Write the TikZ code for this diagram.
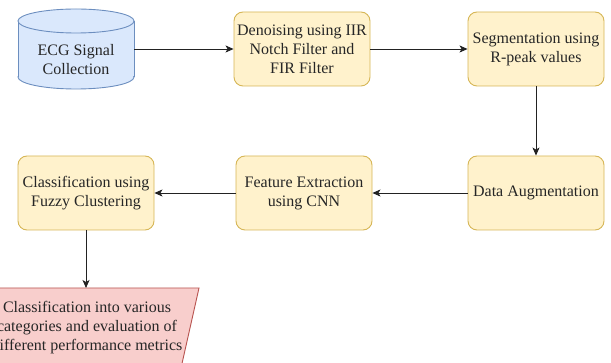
\documentclass[tikz,border=0pt]{standalone}
\usepackage{fontspec}
\setmainfont{Liberation Serif}
\newfontfamily\tnr{Liberation Serif}
\usetikzlibrary{arrows.meta}
\definecolor{yfill}{HTML}{FFF2CC}
\definecolor{ydraw}{HTML}{D6B656}
\definecolor{bfill}{HTML}{DAE8FC}
\definecolor{bdraw}{HTML}{6C8EBF}
\definecolor{rfill}{HTML}{F8CECC}
\definecolor{rdraw}{HTML}{B85450}
\definecolor{linec}{HTML}{222222}
\begin{document}
\begin{tikzpicture}[x=1pt,y=-1pt,
  stepbox/.style={draw=ydraw, fill=yfill, line width=0.9pt, rounded corners=9pt,
    minimum width=136pt, minimum height=74pt, align=center, inner sep=0pt,
    font=\tnr\fontsize{16}{19}\selectfont, text=black!85},
  conn/.style={draw=linec, line width=0.8pt, -{Stealth[length=8pt,width=7pt,inset=2pt]}},
  txt/.style={align=center, font=\tnr\fontsize{16}{19}\selectfont, text=black!85}]
\useasboundingbox (0,0) rectangle (611,363);
% cylinder
\fill[bfill] (18,21) rectangle (134,77);
\fill[bfill] (76,77) ellipse [x radius=58, y radius=12];
\begin{scope}
  \clip (10,77) rectangle (140,95);
  \draw[bdraw, line width=0.9pt] (76,77) ellipse [x radius=58, y radius=12];
\end{scope}
\draw[bdraw, line width=0.9pt] (18,21) -- (18,77) (134,21) -- (134,77);
\draw[bdraw, line width=0.9pt, fill=bfill] (76,21) ellipse [x radius=58, y radius=12];
\node[txt, minimum width=116pt, inner sep=0pt] (ecg) at (76,60) {ECG Signal\\Collection};
% boxes
\node[stepbox] (den) at (302,49) {Denoising using IIR\\Notch Filter and\\FIR Filter};
\node[stepbox] (seg) at (536,49) {Segmentation using\\R-peak values};
\node[stepbox] (aug) at (536,193) {Data Augmentation};
\node[stepbox] (feat) at (304,193) {Feature Extraction\\using CNN};
\node[stepbox] (cls) at (86,193) {Classification using\\Fuzzy Clustering};
% output parallelogram
\begin{scope}
  \clip (0,0) rectangle (611,363);
  \draw[draw=rdraw, fill=rfill, line width=0.9pt] (-9,288) -- (199,288) -- (181,368) -- (-27,368) -- cycle;
\end{scope}
\coordinate (outtop) at (86,288);
\node[txt] (out) at (87,328) {Classification into various\\categories and evaluation of\\different performance metrics};
% connectors
\draw[conn] (ecg.east |- den.west) -- (den.west);
\draw[conn] (den.east) -- (seg.west);
\draw[conn] (seg.south) -- (aug.north);
\draw[conn] (aug.west) -- (feat.east);
\draw[conn] (feat.west) -- (cls.east);
\draw[conn] (cls.south) -- (outtop);
\end{tikzpicture}
\end{document}
